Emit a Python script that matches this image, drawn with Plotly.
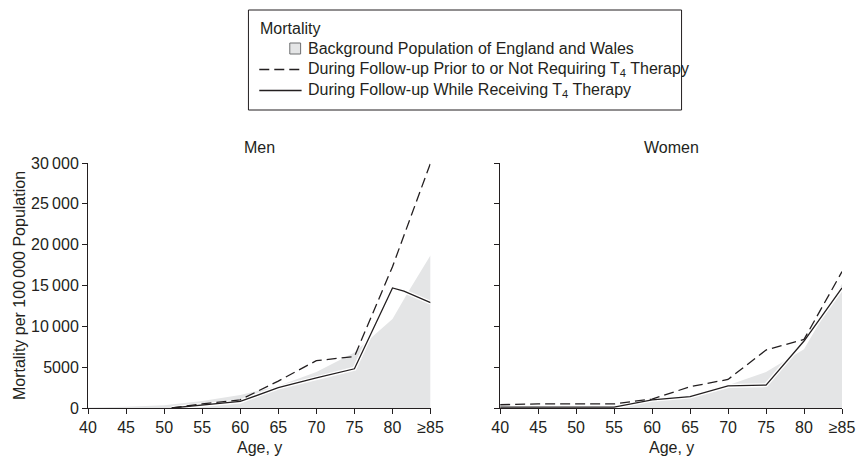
import plotly.graph_objects as go

# ---------------- data ----------------
tick_ages = [40, 45, 50, 55, 60, 65, 70, 75, 80, 85]
tick_labels = ["40", "45", "50", "55", "60", "65", "70", "75", "80", "≥85"]
y_ticks = [0, 5000, 10000, 15000, 20000, 25000, 30000]
y_tick_labels = ["0", "5000", "10\u2009000", "15\u2009000", "20\u2009000", "25\u2009000", "30\u2009000"]

men_bg_age = [40, 45, 50, 55, 60, 65, 70, 75, 80, 82, 85]
men_bg = [50, 150, 350, 850, 1600, 2700, 4400, 6800, 10900, 14100, 18700]
men_dash_age = [51, 55, 60, 65, 70, 75, 80, 85]
men_dash = [0, 500, 1000, 3300, 5800, 6300, 17300, 30000]
men_solid_age = [51, 55, 60, 65, 70, 75, 80, 81.5, 85]
men_solid = [0, 350, 800, 2500, 3700, 4800, 14700, 14300, 12900]

women_bg_age = [40, 45, 50, 55, 60, 65, 70, 75, 80, 85]
women_bg = [100, 100, 150, 200, 900, 1500, 2800, 4400, 7200, 15200]
women_dash_age = [40, 45, 50, 55, 60, 65, 70, 75, 80, 85]
women_dash = [400, 500, 500, 500, 1100, 2600, 3500, 7100, 8400, 16700]
women_solid_age = [40, 45, 50, 55, 60, 65, 70, 75, 80, 85]
women_solid = [100, 100, 100, 100, 1000, 1400, 2700, 2800, 8200, 14700]

panel_titles = ["Men", "Women"]
x_title = "Age, y"
y_title = "Mortality per 100\u2009000 Population"
legend_title = "Mortality"
legend_labels = [
    "Background Population of England and Wales",
    "During Follow-up Prior to or Not Requiring T<sub>4</sub> Therapy",
    "During Follow-up While Receiving T<sub>4</sub> Therapy",
]

# ---------------- style ----------------
W, H = 867, 459
ML, MR, MT, MB = 88, 13, 163, 51
PW, PH = W - ML - MR, H - MT - MB
FONT = "Liberation Sans, Arial, Helvetica, sans-serif"
INK = "#231f20"
GREY = "#e4e5e6"
FS = 16


def px(x):
    return (x - ML) / PW


def py(y):
    return (H - MB - y) / PH


fig = go.Figure()

panels = [
    ("x", "y", men_bg_age, men_bg, men_dash_age, men_dash, men_solid_age, men_solid),
    ("x2", "y2", women_bg_age, women_bg, women_dash_age, women_dash, women_solid_age, women_solid),
]
for xa, ya, bga, bgv, da, dv, sa, sv in panels:
    fig.add_trace(go.Scatter(x=bga, y=bgv, xaxis=xa, yaxis=ya, mode="lines",
                             fill="tozeroy", fillcolor=GREY, line=dict(width=0, color=GREY),
                             showlegend=False, hoverinfo="skip"))
    fig.add_trace(go.Scatter(x=sa, y=sv, xaxis=xa, yaxis=ya, mode="lines",
                             line=dict(width=4, color="white"), showlegend=False, hoverinfo="skip"))
    fig.add_trace(go.Scatter(x=da, y=dv, xaxis=xa, yaxis=ya, mode="lines",
                             line=dict(width=1.3, color=INK, dash="10px,5px"), showlegend=False))
    fig.add_trace(go.Scatter(x=sa, y=sv, xaxis=xa, yaxis=ya, mode="lines",
                             line=dict(width=1.3, color=INK), showlegend=False))

xcommon = dict(range=[40, 85], tickvals=tick_ages, ticktext=tick_labels, ticks="outside",
               ticklen=5, tickcolor=INK, tickwidth=1, showline=True, linecolor=INK, linewidth=1,
               showgrid=False, zeroline=False, tickfont=dict(size=FS, color=INK, family=FONT))
ycommon = dict(range=[0, 30000], tickvals=y_ticks, ticktext=y_tick_labels, ticks="outside",
               ticklen=5, tickcolor=INK, tickwidth=1, showline=True, linecolor=INK, linewidth=1,
               showgrid=False, zeroline=False, tickfont=dict(size=FS, color=INK, family=FONT))

men_dom = [0, px(436)]
women_dom = [px(506.7), 1]

fig.update_layout(
    width=W, height=H, autosize=False, margin=dict(l=ML, r=MR, t=MT, b=MB),
    paper_bgcolor="white", plot_bgcolor="white",
    font=dict(family=FONT, size=FS, color=INK),
    xaxis=dict(domain=men_dom, anchor="y", **xcommon),
    yaxis=dict(domain=[0, 1], anchor="x", **ycommon),
    xaxis2=dict(domain=women_dom, anchor="y2", **xcommon),
    yaxis2=dict(domain=[0, 1], anchor="x2", showticklabels=False, **ycommon),
    showlegend=False,
)

ann = []
for dom, t in zip([men_dom, women_dom], panel_titles):
    cx = (dom[0] + dom[1]) / 2
    ann.append(dict(text=t, x=cx, y=py(147), xref="paper", yref="paper",
                    xanchor="center", yanchor="middle", showarrow=False, font=dict(size=FS)))
    ann.append(dict(text=x_title, x=cx, y=py(447), xref="paper", yref="paper",
                    xanchor="center", yanchor="middle", showarrow=False, font=dict(size=FS)))
ann.append(dict(text=y_title, x=px(18), y=py(286), xref="paper", yref="paper", textangle=-90,
                xanchor="center", yanchor="middle", showarrow=False, font=dict(size=FS)))

ann.append(dict(text=legend_title, x=px(261), y=py(28), xref="paper", yref="paper",
                xanchor="left", yanchor="middle", showarrow=False, font=dict(size=FS)))
rows_y = [48.5, 69.5, 90.5]
for lab, ry in zip(legend_labels, rows_y):
    ann.append(dict(text=lab, x=px(309), y=py(ry), xref="paper", yref="paper",
                    xanchor="left", yanchor="middle", showarrow=False, font=dict(size=FS)))

shapes = [
    dict(type="rect", xref="paper", yref="paper", x0=px(251), x1=px(691), y0=py(10), y1=py(110),
         line=dict(color=INK, width=1), fillcolor="rgba(0,0,0,0)"),
    dict(type="rect", xref="paper", yref="paper", x0=px(293), x1=px(304), y0=py(rows_y[0] - 5.5),
         y1=py(rows_y[0] + 5.5), line=dict(color="#6d6e70", width=1), fillcolor=GREY),
    dict(type="line", xref="paper", yref="paper", x0=px(262), x1=px(305), y0=py(rows_y[1]),
         y1=py(rows_y[1]), line=dict(color=INK, width=1.3, dash="10px,5px")),
    dict(type="line", xref="paper", yref="paper", x0=px(262), x1=px(305), y0=py(rows_y[2]),
         y1=py(rows_y[2]), line=dict(color=INK, width=1.3)),
]

fig.update_layout(annotations=ann, shapes=shapes)
fig.write_html(
    "out.html",
    config={"displayModeBar": False, "responsive": False},
    post_script=("document.documentElement.style.overflow='hidden';"
                 "document.body.style.overflow='hidden';"
                 "document.body.style.margin='0';document.body.style.padding='0';"),
)
